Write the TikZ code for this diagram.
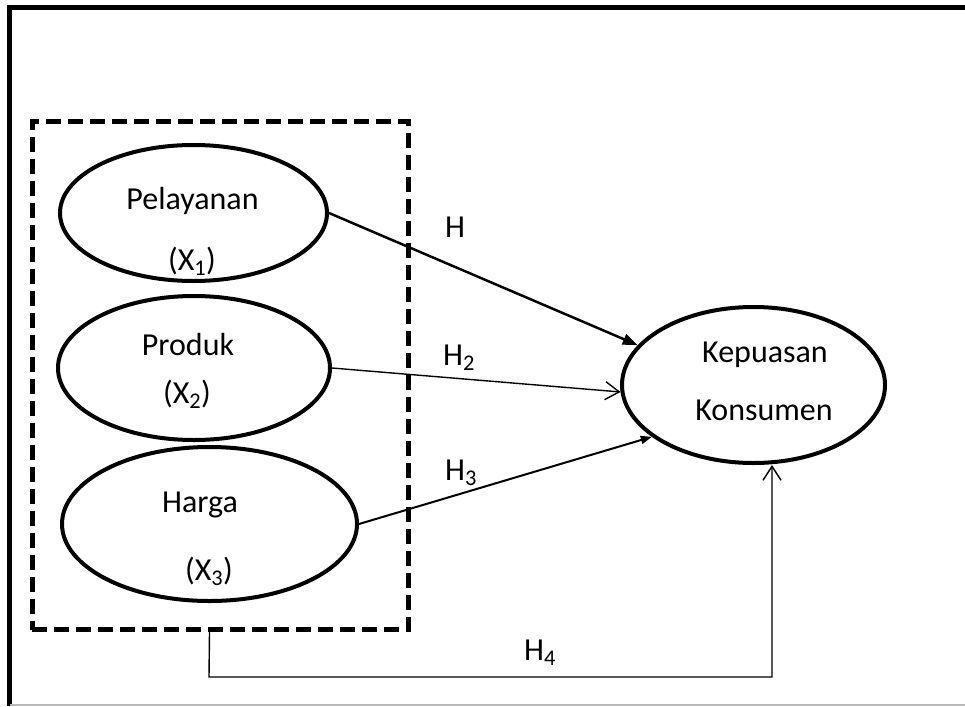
\documentclass[tikz,border=0pt]{standalone}
\usepackage{fontspec}
\setmainfont{Carlito}
\usetikzlibrary{
  arrows.meta,
  shapes.geometric,
  calc
}
\definecolor{framegray}{RGB}{185,185,185}
\tikzset{
  % Bingkai luar
  frameline/.style  = {line width=5pt, draw=black},
  framebase/.style  = {line width=1.2pt, draw=framegray},
  % Variabel (elips)
  varnode/.style    = {ellipse, draw=black, line width=4pt, inner sep=0pt},
  % Kotak putus-putus
  groupbox/.style   = {rectangle, draw=black, line width=5pt,
                       dash pattern=on 15pt off 7pt, inner sep=0pt},
  % Panah hipotesis
  arrowthick/.style = {line width=2.5pt, -{Triangle[length=15pt,width=11pt]}},
  arrowmid/.style   = {line width=2pt, -{Triangle[length=11pt,width=8pt]}},
  arrowthin/.style  = {line width=1.4pt, -{Straight Barb[length=14pt,width=18pt,line width=1.4pt]}},
  % Etiket
  lab/.style        = {font=\fontsize{32}{38}\selectfont, inner sep=0pt, anchor=base},
}

\begin{document}
\begin{tikzpicture}[x=1pt,y=-1pt]
  \useasboundingbox (0,0) rectangle (965,706);
  % Bingkai
  \draw[frameline] (965,7.5) -- (9.5,7.5) -- (9.5,706);
  \draw[framebase] (9.5,705) -- (965,705);
  % Kotak variabel bebas
  \node[groupbox, minimum width=376pt, minimum height=508.5pt] (box) at (220,375.25) {};
  % Elips
  \node[varnode, minimum width=267pt, minimum height=136pt] (pel) at (193.5,213) {};
  \node[varnode, minimum width=272pt, minimum height=144pt] (prod) at (194,368) {};
  \node[varnode, minimum width=295pt, minimum height=154pt] (harga) at (209.5,524) {};
  \node[varnode, minimum width=263pt, minimum height=156pt] (kep) at (753.5,385) {};
  % Teks variabel
  \node[lab] (pelA) at (192.5,209) {Pelayanan};
  \node[lab] (pelB) at (192,270) {(X\textsubscript{1})};
  \node[lab] (prodA) at (188,355) {Produk};
  \node[lab] (prodB) at (187,403) {(X\textsubscript{2})};
  \node[lab] (hargaA) at (200,512) {Harga};
  \node[lab] (hargaB) at (209,580) {(X\textsubscript{3})};
  \node[lab] (kepA) at (765,362) {Kepuasan};
  \node[lab] (kepB) at (764,420) {Konsumen};
  % Panah
  \coordinate (h4a) at (209,677);
  \coordinate (h4b) at (772,677);
  \draw[arrowthick] (pel.east) -- (kep.161.6);
  \draw[arrowthin] (prod.east) -- (kep.183.5);
  \draw[arrowmid] (harga.east) -- (kep.207.5);
  \draw[arrowthin] (harga |- box.south) -- (h4a) -- (h4b) -- (h4b |- kep.south);
  % Etiket hipotesis
  \node[lab] (hA) at (455,237) {H};
  \node[lab] (hB) at (459,365) {H\textsubscript{2}};
  \node[lab] (hC) at (461,480) {H\textsubscript{3}};
  \node[lab] (hD) at (540,660) {H\textsubscript{4}};
\end{tikzpicture}
\end{document}
